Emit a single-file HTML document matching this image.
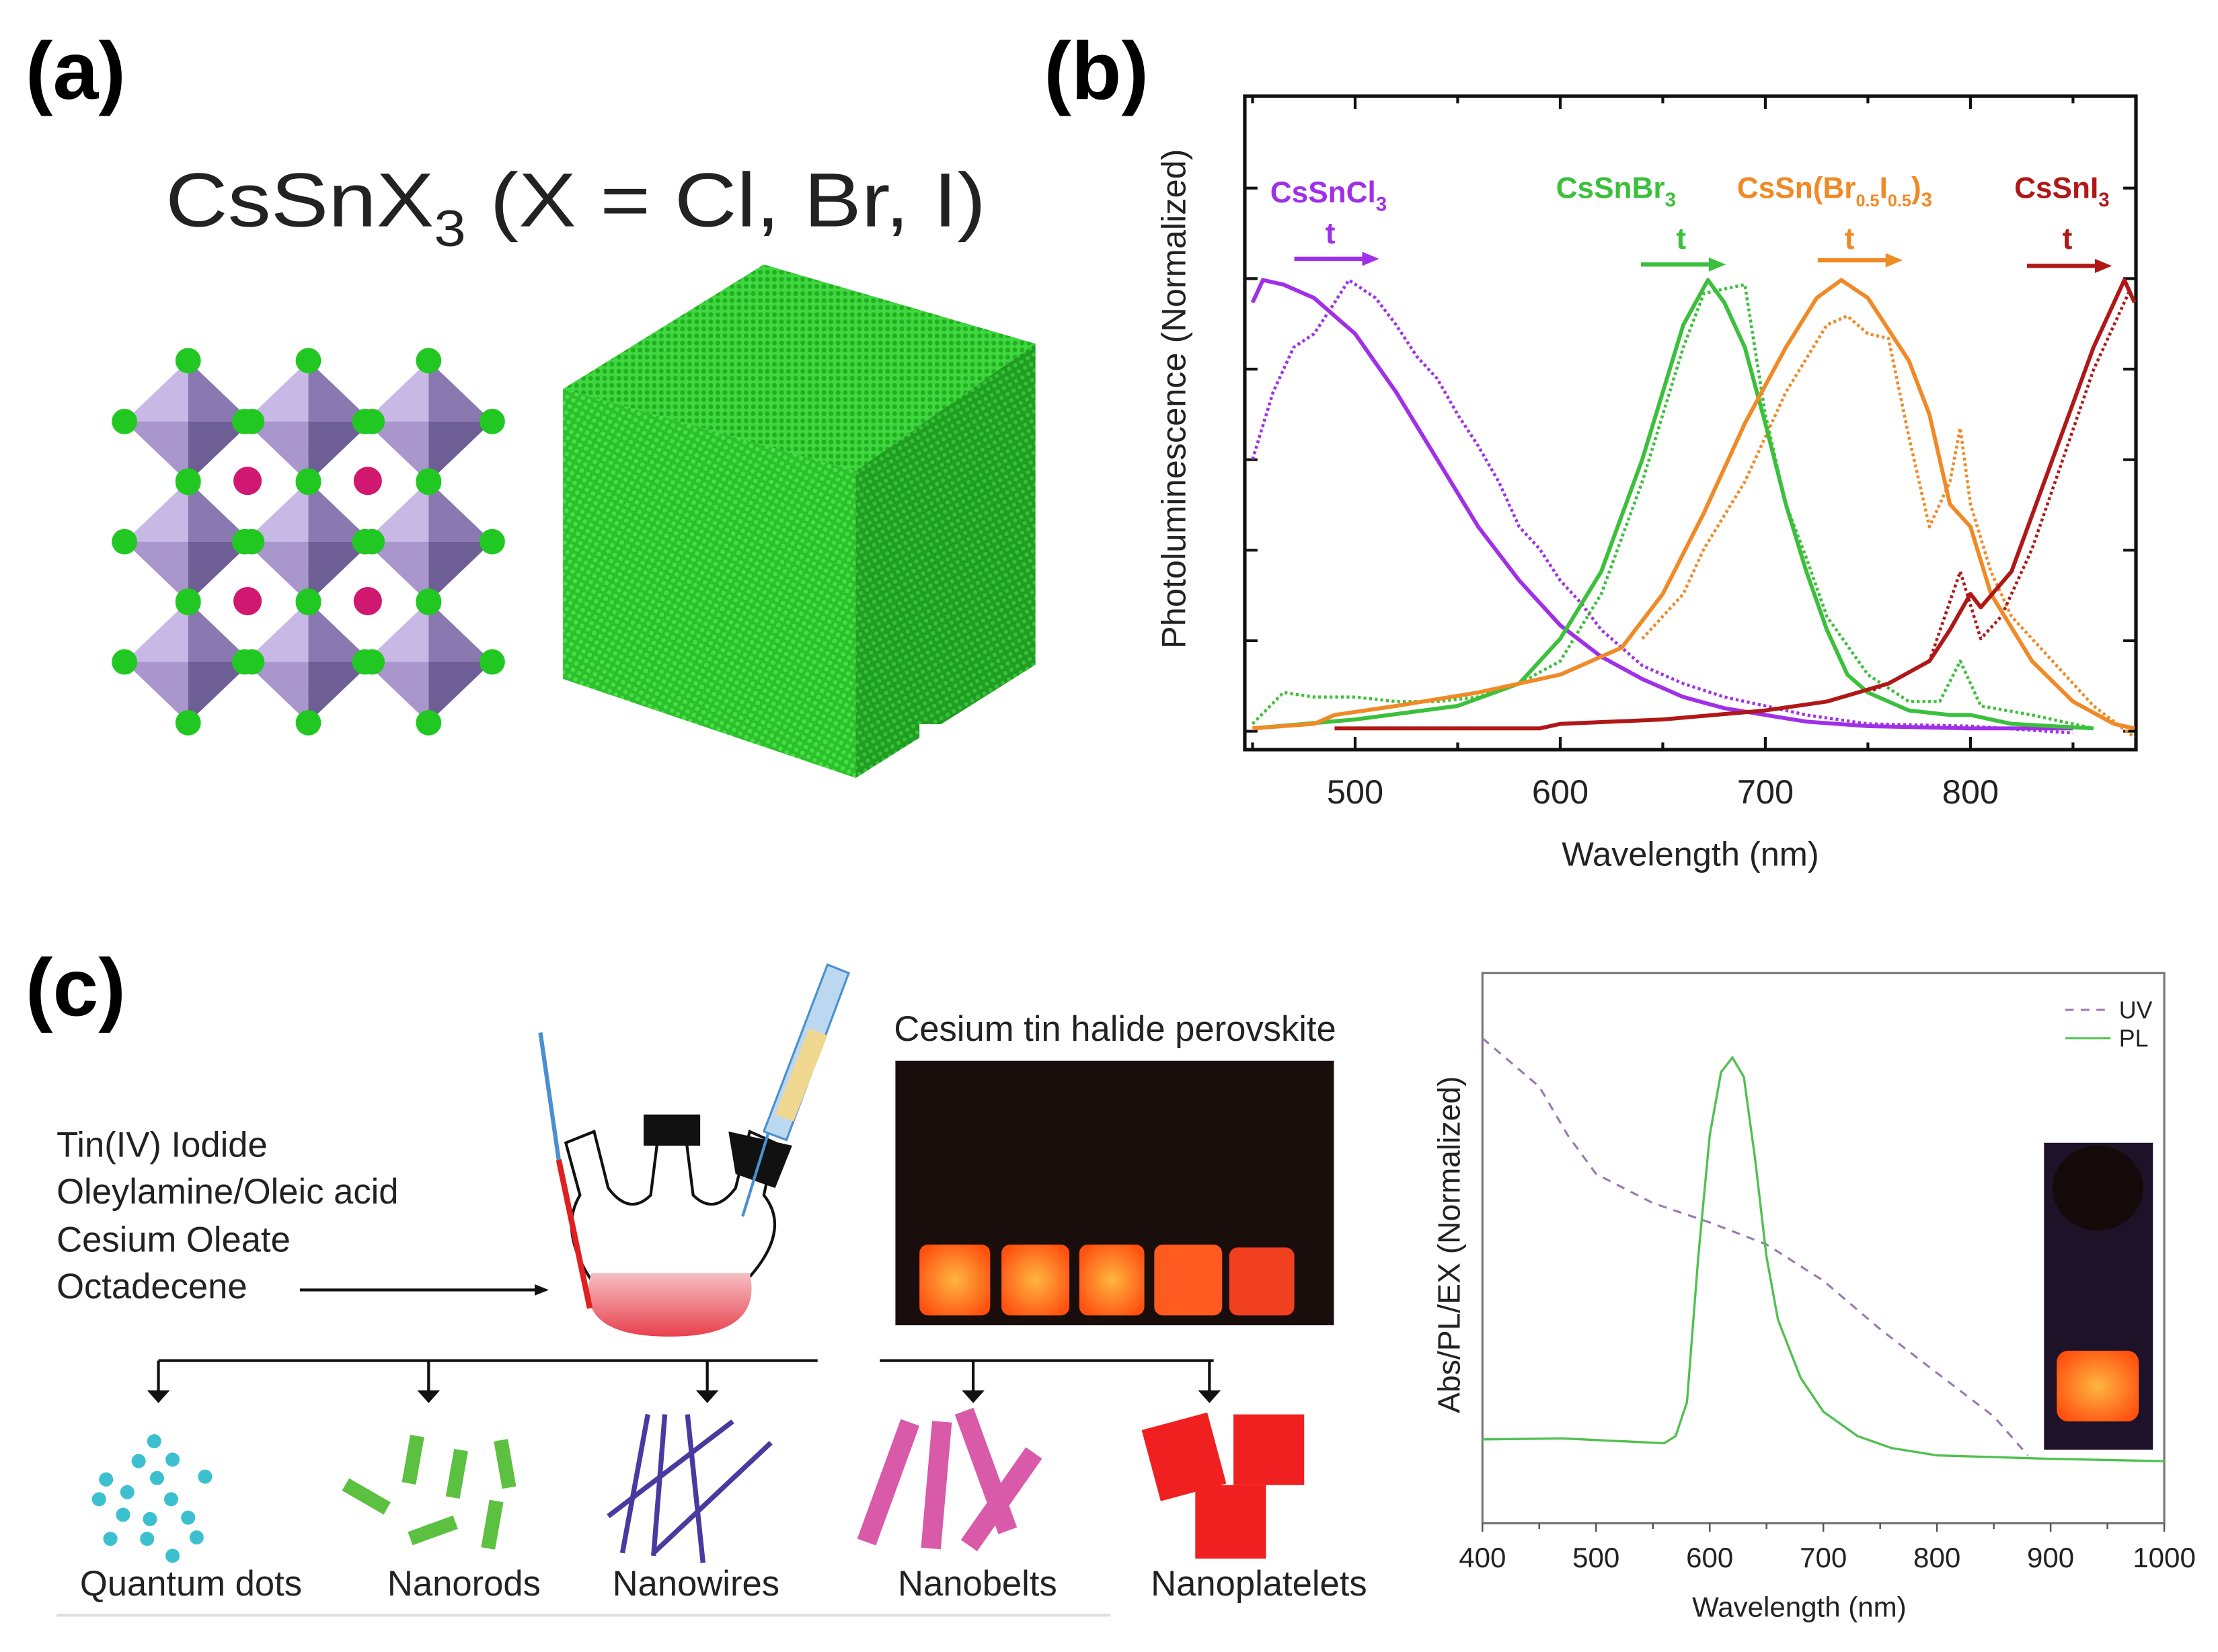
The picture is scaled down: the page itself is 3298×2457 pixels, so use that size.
<!DOCTYPE html>
<html><head><meta charset="utf-8">
<style>
html,body{margin:0;padding:0;background:#fff;}
svg{display:block;}
text{font-family:"Liberation Sans",sans-serif;}
</style></head>
<body>
<svg id="fig" width="3298" height="2457" viewBox="0 0 1568 1168" preserveAspectRatio="none" xmlns="http://www.w3.org/2000/svg">
<defs>
<pattern id="cubeTex" width="5" height="5" patternUnits="userSpaceOnUse" patternTransform="rotate(30)">
<rect width="5" height="5" fill="#2cc02c"/><circle cx="2.5" cy="2.5" r="1.6" fill="#44e044"/>
</pattern>
<pattern id="cubeTex2" width="5" height="5" patternUnits="userSpaceOnUse" patternTransform="rotate(-30)">
<rect width="5" height="5" fill="#1f9e22"/><circle cx="2.5" cy="2.5" r="1.5" fill="#36c236"/>
</pattern>
<pattern id="cubeTex3" width="5" height="5" patternUnits="userSpaceOnUse">
<rect width="5" height="5" fill="#3fd83f"/><circle cx="2.5" cy="2.5" r="1.7" fill="#22b022"/>
</pattern>
<linearGradient id="liq" x1="0" y1="0" x2="0" y2="1"><stop offset="0" stop-color="#f6c0c4"/><stop offset="1" stop-color="#e8404c"/></linearGradient>
<radialGradient id="glow" cx="0.5" cy="0.5" r="0.6"><stop offset="0" stop-color="#ffb640"/><stop offset="1" stop-color="#ff5010"/></radialGradient>
</defs>

<g>
<text x="18" y="70" font-size="58" font-weight="bold">(a)</text>
<text x="117" y="160" font-size="54" textLength="580" lengthAdjust="spacingAndGlyphs" fill="#222">CsSnX<tspan font-size="36" dy="14">3</tspan><tspan dy="-14"> (X = Cl, Br, I)</tspan></text>
<g id="lattice"></g>
<g>
<polygon points="398,275 540,187 732,243 605,333" fill="url(#cubeTex3)"/>
<polygon points="398,275 605,333 605,550 398,480" fill="url(#cubeTex)"/>
<polygon points="605,333 732,243 732,470 605,550" fill="url(#cubeTex2)"/>
<rect x="650" y="512" width="30" height="40" fill="#fff"/>
</g>
</g>

<g>
<text x="738" y="70" font-size="58" font-weight="bold">(b)</text>
<rect x="880" y="68" width="630" height="462" fill="none" stroke="#111" stroke-width="2.5"/>
<g id="bTicks"></g>
<g id="bSeries"></g>
<text x="1195" y="612" font-size="24" text-anchor="middle" fill="#222">Wavelength (nm)</text>
<text transform="translate(838,282) rotate(-90)" font-size="24" text-anchor="middle" fill="#222">Photoluminescence (Normalized)</text>
<g font-weight="bold" font-size="21">
<text x="898" y="143" fill="#a030e8">CsSnCl<tspan font-size="14" dy="6">3</tspan></text>
<text x="937" y="172" fill="#a030e8">t</text>
<line x1="915" y1="183" x2="965" y2="183" stroke="#a030e8" stroke-width="3"/><polygon points="975,183 963,178 963,188" fill="#a030e8"/>
<text x="1100" y="140" fill="#3cc03c">CsSnBr<tspan font-size="14" dy="6">3</tspan></text>
<text x="1185" y="176" fill="#3cc03c">t</text>
<line x1="1160" y1="187" x2="1210" y2="187" stroke="#3cc03c" stroke-width="3"/><polygon points="1220,187 1208,182 1208,192" fill="#3cc03c"/>
<text x="1228" y="140" fill="#f08a26">CsSn(Br<tspan font-size="12" dy="6">0.5</tspan><tspan dy="-6">I</tspan><tspan font-size="12" dy="6">0.5</tspan><tspan dy="-6">)</tspan><tspan font-size="14" dy="6">3</tspan></text>
<text x="1304" y="176" fill="#f08a26">t</text>
<line x1="1285" y1="184" x2="1335" y2="184" stroke="#f08a26" stroke-width="3"/><polygon points="1345,184 1333,179 1333,189" fill="#f08a26"/>
<text x="1424" y="140" fill="#b01818">CsSnI<tspan font-size="14" dy="6">3</tspan></text>
<text x="1458" y="176" fill="#b01818">t</text>
<line x1="1433" y1="188" x2="1483" y2="188" stroke="#b01818" stroke-width="3"/><polygon points="1493,188 1481,183 1481,193" fill="#b01818"/>
</g>
</g>

<g>
<text x="18" y="718" font-size="58" font-weight="bold">(c)</text>
<g font-size="25" fill="#222">
<text x="40" y="818">Tin(IV) Iodide</text>
<text x="40" y="851">Oleylamine/Oleic acid</text>
<text x="40" y="885">Cesium Oleate</text>
<text x="40" y="918">Octadecene</text>
</g>
<line x1="212" y1="912" x2="378" y2="912" stroke="#111" stroke-width="2"/><polygon points="388,912 378,908 378,916" fill="#111"/>
<g>
<path d="M418,905 A80,40 0 0 0 528,905 L528,905 Q560,870 540,845 L548,808 L530,800 L520,840 Q505,860 490,845 L485,805 L465,805 L460,845 Q445,860 430,840 L420,800 L400,808 L410,845 Q395,870 418,905 Z" fill="#fff" stroke="#111" stroke-width="2"/>
<path d="M418,900 L530,900 Q540,945 473,945 Q405,945 418,900 Z" fill="url(#liq)"/>
<rect x="455" y="788" width="40" height="22" fill="#111"/>
<polygon points="515,800 560,810 548,840 520,830" fill="#111"/>
<line x1="382" y1="730" x2="395" y2="820" stroke="#4a90d0" stroke-width="3"/>
<line x1="395" y1="820" x2="417" y2="925" stroke="#e02020" stroke-width="4"/>
<line x1="525" y1="860" x2="545" y2="795" stroke="#4a90d0" stroke-width="2"/>
<polygon points="540,800 585,682 600,688 556,806" fill="#bcd8f0" stroke="#4a90d0" stroke-width="1.5"/>
<polygon points="548,788 572,727 585,732 561,793" fill="#f0d890"/>
</g>
<text x="632" y="736" font-size="25" fill="#222">Cesium tin halide perovskite</text>
<g>
<rect x="633" y="750" width="310" height="187" fill="#1a0e0c"/>
<rect x="650" y="880" width="50" height="50" rx="6" fill="url(#glow)"/>
<rect x="708" y="880" width="48" height="50" rx="6" fill="url(#glow)"/>
<rect x="763" y="880" width="46" height="50" rx="6" fill="url(#glow)"/>
<rect x="816" y="880" width="48" height="50" rx="6" fill="#ff5a20"/>
<rect x="869" y="882" width="46" height="48" rx="6" fill="#f04020"/>
</g>
<g stroke="#111" stroke-width="2" fill="#111">
<line x1="112" y1="962" x2="578" y2="962"/><line x1="622" y1="962" x2="858" y2="962"/>
<line x1="112" y1="962" x2="112" y2="985"/><line x1="303" y1="962" x2="303" y2="985"/><line x1="500" y1="962" x2="500" y2="985"/><line x1="688" y1="962" x2="688" y2="985"/><line x1="855" y1="962" x2="855" y2="985"/>
<polygon points="104,983 120,983 112,992" stroke="none"/><polygon points="295,983 311,983 303,992" stroke="none"/><polygon points="492,983 508,983 500,992" stroke="none"/><polygon points="680,983 696,983 688,992" stroke="none"/><polygon points="847,983 863,983 855,992" stroke="none"/>
</g>
<g fill="#3cc0d0">
<circle cx="109" cy="1019" r="5"/><circle cx="98" cy="1033" r="5"/><circle cx="122" cy="1032" r="5"/><circle cx="111" cy="1045" r="5"/><circle cx="145" cy="1044" r="5"/><circle cx="75" cy="1046" r="5"/><circle cx="90" cy="1055" r="5"/><circle cx="70" cy="1060" r="5"/><circle cx="121" cy="1060" r="5"/><circle cx="87" cy="1071" r="5"/><circle cx="106" cy="1074" r="5"/><circle cx="133" cy="1073" r="5"/><circle cx="78" cy="1088" r="5"/><circle cx="104" cy="1088" r="5"/><circle cx="139" cy="1087" r="5"/><circle cx="122" cy="1100" r="5"/>
</g>
<g fill="#5cc040">
<rect x="-5" y="-17" width="10" height="34" transform="translate(292,1032) rotate(10)"/>
<rect x="-5" y="-17" width="10" height="34" transform="translate(323,1042) rotate(10)"/>
<rect x="-5" y="-17" width="10" height="34" transform="translate(357,1035) rotate(-10)"/>
<rect x="-5" y="-17" width="10" height="34" transform="translate(259,1058) rotate(-60)"/>
<rect x="-5" y="-17" width="10" height="34" transform="translate(306,1082) rotate(70)"/>
<rect x="-5" y="-17" width="10" height="34" transform="translate(348,1078) rotate(10)"/>
</g>
<g stroke="#4a3aa0" stroke-width="3.5">
<line x1="458" y1="1000" x2="440" y2="1098"/><line x1="470" y1="1000" x2="462" y2="1100"/><line x1="486" y1="1000" x2="497" y2="1105"/><line x1="430" y1="1072" x2="518" y2="1005"/><line x1="462" y1="1098" x2="545" y2="1020"/>
</g>
<g fill="#d85aa8">
<rect x="-7" y="-45" width="14" height="90" transform="translate(628,1048) rotate(20)"/>
<rect x="-7" y="-45" width="14" height="90" transform="translate(662,1050) rotate(5)"/>
<rect x="-7" y="-45" width="14" height="90" transform="translate(697,1040) rotate(-20)"/>
<rect x="-7" y="-40" width="14" height="80" transform="translate(708,1060) rotate(35)"/>
</g>
<g fill="#f02020">
<rect x="-24" y="-26" width="48" height="52" transform="translate(837,1030) rotate(-15)"/>
<rect x="872" y="1000" width="50" height="50"/>
<rect x="845" y="1050" width="50" height="52"/>
</g>
<g font-size="25" fill="#222" text-anchor="middle">
<text x="135" y="1128">Quantum dots</text><text x="328" y="1128">Nanorods</text><text x="492" y="1128">Nanowires</text><text x="691" y="1128">Nanobelts</text><text x="890" y="1128">Nanoplatelets</text>
</g>
<line x1="40" y1="1142" x2="785" y2="1142" stroke="#ddd" stroke-width="2"/>
</g>

<g>
<rect x="1048" y="688" width="482" height="389" fill="none" stroke="#777" stroke-width="1.5"/>
<g id="cTicks"></g>
<g id="cSeries"></g>
<text x="1272" y="1143" font-size="20" text-anchor="middle" fill="#222">Wavelength (nm)</text>
<text transform="translate(1032,880) rotate(-90)" font-size="22" text-anchor="middle" fill="#222">Abs/PL/EX (Normalized)</text>
<g>
<line x1="1460" y1="714" x2="1492" y2="714" stroke="#9a7ab0" stroke-width="1.5" stroke-dasharray="6 5"/>
<text x="1498" y="720" font-size="17" fill="#222">UV</text>
<line x1="1460" y1="734" x2="1492" y2="734" stroke="#50c050" stroke-width="1.5"/>
<text x="1498" y="740" font-size="17" fill="#222">PL</text>
</g>
<g>
<rect x="1445" y="808" width="77" height="217" fill="#1e1228"/>
<ellipse cx="1483" cy="840" rx="32" ry="30" fill="#140a0a"/>
<rect x="1454" y="955" width="58" height="50" rx="8" fill="url(#glow)"/>
</g>
</g>
</svg>

<script>
// ---------- Panel (b) data ----------
var bTickLabels=[500,600,700,800];
var clSolidX=[450,455,465,480,500,520,540,560,580,600,620,640,660,680,700,720,750,800,850];
var clSolidY=[0.95,1.0,0.99,0.96,0.88,0.75,0.6,0.45,0.33,0.23,0.16,0.11,0.07,0.045,0.03,0.015,0.005,0,0];
var clDotX=[450,460,470,480,490,497,510,520,530,540,550,560,570,580,590,600,610,620,630,640,650,660,680,700,720,750,800,850];
var clDotY=[0.6,0.75,0.85,0.88,0.95,1.0,0.96,0.9,0.83,0.78,0.7,0.63,0.55,0.45,0.4,0.33,0.28,0.22,0.18,0.14,0.12,0.1,0.07,0.05,0.03,0.01,0.005,-0.01];
var brSolidX=[450,500,550,580,600,620,640,660,672,680,690,700,710,720,730,740,750,770,790,800,820,860];
var brSolidY=[0,0.02,0.05,0.1,0.2,0.35,0.6,0.9,1.0,0.95,0.85,0.68,0.5,0.35,0.22,0.12,0.08,0.04,0.03,0.03,0.01,0];
var brDotX=[450,465,480,500,520,540,560,580,600,620,640,660,670,680,690,700,710,720,730,750,770,785,795,805,830,860];
var brDotY=[0.01,0.08,0.07,0.07,0.06,0.06,0.07,0.1,0.15,0.3,0.55,0.85,0.97,0.98,0.99,0.7,0.5,0.38,0.25,0.12,0.06,0.06,0.15,0.05,0.03,0];
var biSolidX=[450,480,490,520,560,600,630,650,670,690,710,725,737,750,770,780,790,800,810,830,850,870,880];
var biSolidY=[0,0.01,0.03,0.05,0.08,0.12,0.18,0.3,0.48,0.68,0.85,0.96,1.0,0.96,0.82,0.7,0.5,0.45,0.3,0.15,0.06,0.01,0];
var biDotX=[640,650,660,670,690,710,730,740,750,760,770,780,790,795,800,810,820,840,860,880];
var biDotY=[0.2,0.25,0.3,0.4,0.55,0.75,0.9,0.92,0.88,0.87,0.65,0.45,0.55,0.67,0.5,0.35,0.25,0.15,0.05,-0.02];
var iSolidX=[490,590,600,650,700,730,760,780,790,800,805,820,840,860,875,880];
var iSolidY=[0,0,0.01,0.02,0.04,0.06,0.1,0.15,0.22,0.3,0.27,0.35,0.6,0.85,1.0,0.95];
var iDotX=[750,760,780,795,805,815,830,845,860,870,878];
var iDotY=[0.08,0.1,0.15,0.35,0.2,0.25,0.4,0.6,0.8,0.9,0.98];

// ---------- Panel (c) data ----------
var cTickLabels=[400,500,600,700,800,900,1000];
var uvX=[400,425,450,475,500,550,600,650,700,750,800,850,880];
var uvY=[1.0,0.95,0.90,0.80,0.72,0.66,0.62,0.575,0.5,0.40,0.31,0.22,0.14];
var plX=[400,470,560,570,580,590,600,610,620,630,640,650,660,680,700,730,760,800,900,1000];
var plY=[0.173,0.175,0.165,0.18,0.25,0.55,0.8,0.93,0.96,0.92,0.75,0.55,0.42,0.3,0.23,0.18,0.155,0.14,0.133,0.128];

var NS='http://www.w3.org/2000/svg';
function bx(w){return 958+(w-500)*1.45;}
function by(v){return 515-v*317;}
function cxs(w){return 1048+(w-400)*482/600;}
function cys(v){return 1077-v*343;}
function mk(parent,tag,attrs){var e=document.createElementNS(NS,tag);for(var k in attrs)e.setAttribute(k,attrs[k]);parent.appendChild(e);return e;}
function pathD(xs,ys,fx,fy){var d='';for(var i=0;i<xs.length;i++){d+=(i?'L':'M')+fx(xs[i]).toFixed(1)+','+fy(ys[i]).toFixed(1);}return d;}

// ---------- Panel (a) lattice ----------
(function(){
  var g=document.getElementById('lattice');
  var cols=[133,218,303], rows=[298,383,468], dx=45, dy=43;
  rows.forEach(function(y){cols.forEach(function(x){
    mk(g,'polygon',{points:x+','+(y-dy)+' '+(x-dx)+','+y+' '+x+','+y,fill:'#c8b8e6'});
    mk(g,'polygon',{points:x+','+(y-dy)+' '+(x+dx)+','+y+' '+x+','+y,fill:'#8a78b0'});
    mk(g,'polygon',{points:x+','+(y+dy)+' '+(x-dx)+','+y+' '+x+','+y,fill:'#a896cc'});
    mk(g,'polygon',{points:x+','+(y+dy)+' '+(x+dx)+','+y+' '+x+','+y,fill:'#6e5e96'});
  });});
  [[175,340],[260,340],[175,425],[260,425]].forEach(function(p){mk(g,'circle',{cx:p[0],cy:p[1],r:10,fill:'#d01870'});});
  rows.forEach(function(y){cols.forEach(function(x){
    [[x,y-dy],[x,y+dy],[x-dx,y],[x+dx,y]].forEach(function(p){mk(g,'circle',{cx:p[0],cy:p[1],r:9,fill:'#22c822'});});
  });});
})();

// panel b ticks
var bt=document.getElementById('bTicks');
for(var w=450;w<=880;w+=50){
  var big=(w%100===0), L=big?9:5;
  var t1=mk(bt,'line',{x1:bx(w),y1:530,x2:bx(w),y2:530-L,stroke:'#111','stroke-width':2});
  
  
  mk(bt,'line',{x1:bx(w),y1:68,x2:bx(w),y2:68+L,stroke:'#111','stroke-width':2});
}
for(var k=0;k<7;k++){
  var yy=133+k*64;
  mk(bt,'line',{x1:880,y1:yy,x2:889,y2:yy,stroke:'#111','stroke-width':2});
  mk(bt,'line',{x1:1510,y1:yy,x2:1501,y2:yy,stroke:'#111','stroke-width':2});
}
bTickLabels.forEach(function(v){
  var t=mk(bt,'text',{x:bx(v),y:568,'font-size':24,'text-anchor':'middle',fill:'#222'});
  t.textContent=v;
  
  
});

var bs=document.getElementById('bSeries');
function bLine(xs,ys,col,dotted,name){
  var p=mk(bs,'path',{d:pathD(xs,ys,bx,by),fill:'none',stroke:col,'stroke-width':dotted?2.2:2.8,'stroke-linejoin':'round'});
  if(dotted)p.setAttribute('stroke-dasharray','2 2');
  
  
}
bLine(clDotX,clDotY,'#a030e8',true,'cssncl3-dotted');
bLine(brDotX,brDotY,'#3cc03c',true,'cssnbr3-dotted');
bLine(biDotX,biDotY,'#f08a26',true,'cssnbri3-dotted');
bLine(iDotX,iDotY,'#b01818',true,'cssni3-dotted');
bLine(clSolidX,clSolidY,'#a030e8',false,'cssncl3-solid');
bLine(brSolidX,brSolidY,'#3cc03c',false,'cssnbr3-solid');
bLine(biSolidX,biSolidY,'#f08a26',false,'cssnbri3-solid');
bLine(iSolidX,iSolidY,'#b01818',false,'cssni3-solid');

// panel c ticks
var ct=document.getElementById('cTicks');
for(var w2=400;w2<=1000;w2+=50){
  mk(ct,'line',{x1:cxs(w2),y1:1077,x2:cxs(w2),y2:1077+(w2%100===0?6:4),stroke:'#555','stroke-width':1.2});
}
cTickLabels.forEach(function(v){
  var t=mk(ct,'text',{x:cxs(v),y:1108,'font-size':20,'text-anchor':'middle',fill:'#222'});
  t.textContent=v;
  
  
});
var cs=document.getElementById('cSeries');
var uv=mk(cs,'path',{d:pathD(uvX,uvY,cxs,cys),fill:'none',stroke:'#9a7ab0','stroke-width':1.5,'stroke-dasharray':'6 5'});


var pl=mk(cs,'path',{d:pathD(plX,plY,cxs,cys),fill:'none',stroke:'#50c050','stroke-width':1.6});


</script>
</body></html>
